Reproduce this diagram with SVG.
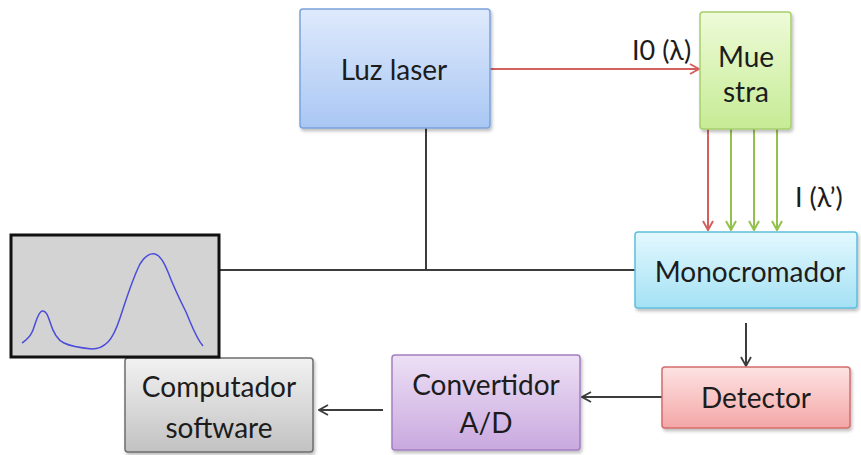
<svg xmlns="http://www.w3.org/2000/svg" width="861" height="455" viewBox="0 0 861 455">
  <style>
    .box { stroke-width: 1.5; filter: url(#shadow); }
    .lbl { font-family: Lato, "Open Sans", sans-serif; font-size: 28px; fill: #1c1c1c; text-anchor: middle; }
    .small { font-family: Lato, "Open Sans", sans-serif; font-size: 27px; fill: #1c1c1c; }
    .wire { stroke: #3c3c3c; stroke-width: 2; fill: none; }
    .red { stroke: #d4605e; stroke-width: 2; fill: none; }
    .green { stroke: #92c24c; stroke-width: 2; fill: none; }
  </style>
  <defs>
    <filter id="shadow" x="-10%" y="-10%" width="125%" height="130%">
      <feDropShadow dx="1.5" dy="2.5" stdDeviation="1.5" flood-color="#000" flood-opacity="0.25"/>
    </filter>
    <linearGradient id="gBlue" x1="0" y1="0" x2="0" y2="1">
      <stop offset="0" stop-color="#dfeafc"/>
      <stop offset="1" stop-color="#a9c7f4"/>
    </linearGradient>
    <linearGradient id="gGreen" x1="0" y1="0" x2="0" y2="1">
      <stop offset="0" stop-color="#eefbd8"/>
      <stop offset="1" stop-color="#c6eb95"/>
    </linearGradient>
    <linearGradient id="gCyan" x1="0" y1="0" x2="0" y2="1">
      <stop offset="0" stop-color="#e3f8fe"/>
      <stop offset="1" stop-color="#a4e1f4"/>
    </linearGradient>
    <linearGradient id="gRed" x1="0" y1="0" x2="0" y2="1">
      <stop offset="0" stop-color="#fde3e3"/>
      <stop offset="1" stop-color="#f4a6a6"/>
    </linearGradient>
    <linearGradient id="gPurple" x1="0" y1="0" x2="0" y2="1">
      <stop offset="0" stop-color="#ede0f5"/>
      <stop offset="1" stop-color="#c9a9df"/>
    </linearGradient>
    <linearGradient id="gGrey" x1="0" y1="0" x2="0" y2="1">
      <stop offset="0" stop-color="#f2f2f2"/>
      <stop offset="1" stop-color="#c2c2c2"/>
    </linearGradient>
    <marker id="aRed" viewBox="0 0 12 12" refX="11" refY="6" markerWidth="12" markerHeight="12" markerUnits="userSpaceOnUse" orient="auto">
      <path d="M2,1 L11,6 L2,11" fill="none" stroke="#d4605e" stroke-width="2"/>
    </marker>
    <marker id="aGreen" viewBox="0 0 12 12" refX="11" refY="6" markerWidth="12" markerHeight="12" markerUnits="userSpaceOnUse" orient="auto">
      <path d="M2,1 L11,6 L2,11" fill="none" stroke="#92c24c" stroke-width="2"/>
    </marker>
    <marker id="aDark" viewBox="0 0 12 12" refX="11" refY="6" markerWidth="12" markerHeight="12" markerUnits="userSpaceOnUse" orient="auto">
      <path d="M2,1 L11,6 L2,11" fill="none" stroke="#3c3c3c" stroke-width="1.8"/>
    </marker>
  </defs>

  <rect width="861" height="455" fill="#ffffff"/>

  <!-- connectors -->
  <g id="connectors">
    <line class="red" x1="490" y1="69" x2="699" y2="69" marker-end="url(#aRed)"/>
    <line class="red" x1="708" y1="129" x2="708" y2="230" marker-end="url(#aRed)"/>
    <line class="green" x1="731" y1="129" x2="731" y2="230" marker-end="url(#aGreen)"/>
    <line class="green" x1="754" y1="129" x2="754" y2="230" marker-end="url(#aGreen)"/>
    <line class="green" x1="777" y1="129" x2="777" y2="230" marker-end="url(#aGreen)"/>
    <polyline class="wire" points="426,128 426,270"/>
    <line class="wire" x1="219" y1="270" x2="635" y2="270"/>
    <line class="wire" x1="746" y1="323" x2="746" y2="366" marker-end="url(#aDark)"/>
    <line class="wire" x1="662" y1="397" x2="582" y2="397" marker-end="url(#aDark)"/>
    <line class="wire" x1="383" y1="410" x2="319" y2="410" marker-end="url(#aDark)"/>
  </g>

  <!-- connector labels -->
  <text class="small" x="632" y="60">I0 (λ)</text>
  <text class="small" x="795" y="207">I (λ’)</text>

  <g id="luz-laser">
    <rect class="box" x="300" y="9" width="190" height="119" rx="3" fill="url(#gBlue)" stroke="#7aa3dc"/>
    <text class="lbl" x="394" y="80">Luz laser</text>
  </g>

  <g id="muestra">
    <rect class="box" x="700" y="12" width="91" height="117" rx="3" fill="url(#gGreen)" stroke="#a6d06c"/>
    <text class="lbl" x="746" y="67">Mue</text>
    <text class="lbl" x="746" y="102">stra</text>
  </g>

  <g id="monocromador">
    <rect class="box" x="635" y="232" width="222" height="76" rx="3" fill="url(#gCyan)" stroke="#5dbfdd"/>
    <text class="lbl" x="750" y="282">Monocromador</text>
  </g>

  <g id="detector">
    <rect class="box" x="662" y="367" width="188" height="61" rx="3" fill="url(#gRed)" stroke="#d36c6c"/>
    <text class="lbl" x="756" y="408">Detector</text>
  </g>

  <g id="convertidor">
    <rect class="box" x="392" y="355" width="188" height="95" rx="3" fill="url(#gPurple)" stroke="#a27fc0"/>
    <text class="lbl" x="486" y="395">Convertidor</text>
    <text class="lbl" x="486" y="433">A/D</text>
  </g>

  <g id="computador">
    <rect class="box" x="125" y="358" width="188" height="94" rx="3" fill="url(#gGrey)" stroke="#6e6e6e"/>
    <text class="lbl" x="219" y="397">Computador</text>
    <text class="lbl" x="219" y="438">software</text>
  </g>

  <g id="espectro">
    <rect x="11" y="235" width="208" height="122" fill="#d3d3d3" stroke="#111111" stroke-width="3"/>
    <path d="M22,343 C26,340 30,338 33,330 C36,322 38,312 42,311 C46,310 48,316 50,322 C53,332 57,340 64,343 C72,347 82,348 92,349 C98,349 104,346 108,342 C113,337 116,330 120,318 C126,300 132,280 140,264 C145,256 150,253 155,254 C160,255 164,262 168,272 C174,288 180,300 186,312 C192,326 196,338 203,346" fill="none" stroke="#4b4bdc" stroke-width="1.5"/>
  </g>
</svg>
